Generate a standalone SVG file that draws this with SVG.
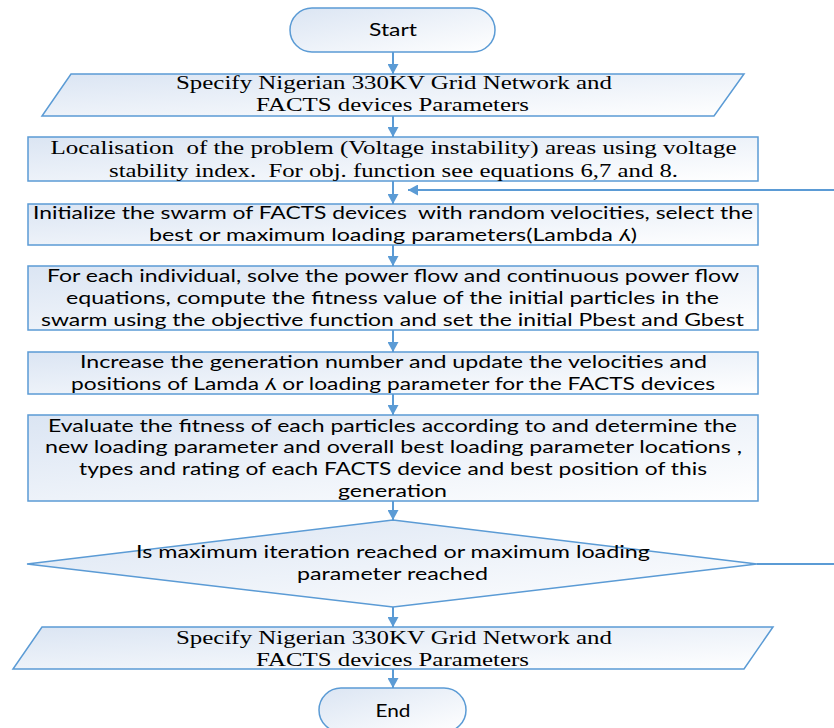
<svg xmlns="http://www.w3.org/2000/svg" width="834" height="728" viewBox="0 0 834 728">
<defs>
  <linearGradient id="g" x1="0" y1="0" x2="1" y2="1">
    <stop offset="0" stop-color="#dbe5f3"/>
    <stop offset="1" stop-color="#ffffff"/>
  </linearGradient>
  <marker id="ah" markerUnits="userSpaceOnUse" markerWidth="10" markerHeight="11" viewBox="0 0 10 11" refX="10" refY="5.5" orient="auto">
    <path d="M0,0 L10,5.5 L0,11 z" fill="#5b9bd5"/>
  </marker>
</defs>
<style>
  .shape{fill:url(#g);stroke:#5b9bd5;stroke-width:1.5}
  .sans{font-family:Lato,"Open Sans","DejaVu Sans",sans-serif;font-size:18px;fill:#000;text-anchor:middle}
  .serif{font-family:"Liberation Serif","Times New Roman",serif;font-size:19px;fill:#000;text-anchor:middle}
  .conn{stroke:#5b9bd5;stroke-width:2;fill:none;marker-end:url(#ah)}
</style>
<rect width="834" height="728" fill="#ffffff"/>

<g id="connectors">
  <line class="conn" x1="393" y1="52" x2="393" y2="74"/>
  <line class="conn" x1="393" y1="116" x2="393" y2="137"/>
  <line class="conn" x1="393" y1="181" x2="393" y2="204"/>
  <line class="conn" x1="393" y1="245" x2="393" y2="266"/>
  <line class="conn" x1="393" y1="330" x2="393" y2="352"/>
  <line class="conn" x1="393" y1="394" x2="393" y2="415"/>
  <line class="conn" x1="393" y1="501" x2="393" y2="520"/>
  <line class="conn" x1="393" y1="607" x2="393" y2="627"/>
  <line class="conn" x1="393" y1="669" x2="393" y2="688"/>
  <path class="conn" d="M757,564 H850 V190 H408"/>
</g>

<g id="start">
  <rect class="shape" x="290" y="8" width="205" height="44" rx="22" ry="22"/>
  <text class="sans" x="393" y="36" textLength="48" lengthAdjust="spacingAndGlyphs">Start</text>
</g>

<g id="input1">
  <polygon class="shape" points="71,74 744,74 714,116 42,116"/>
  <text class="serif" x="394" y="89" textLength="436" lengthAdjust="spacingAndGlyphs">Specify Nigerian 330KV Grid Network and</text>
  <text class="serif" x="392.5" y="111" textLength="273" lengthAdjust="spacingAndGlyphs">FACTS devices Parameters</text>
</g>

<g id="localise">
  <rect class="shape" x="28" y="137" width="730" height="44"/>
  <text class="serif" x="393.5" y="154" textLength="686" lengthAdjust="spacingAndGlyphs" xml:space="preserve">Localisation  of the problem (Voltage instability) areas using voltage</text>
  <text class="serif" x="393.5" y="177" textLength="569" lengthAdjust="spacingAndGlyphs" xml:space="preserve">stability index.  For obj. function see equations 6,7 and 8.</text>
</g>

<g id="initialize">
  <rect class="shape" x="28" y="204" width="730" height="41"/>
  <text class="sans" x="393" y="219" textLength="720" lengthAdjust="spacingAndGlyphs" xml:space="preserve">Initialize the swarm of FACTS devices  with random velocities, select the</text>
  <text class="sans" x="393" y="241" textLength="488" lengthAdjust="spacingAndGlyphs">best or maximum loading parameters(Lambda ʎ)</text>
</g>

<g id="powerflow">
  <rect class="shape" x="28" y="266" width="730" height="64"/>
  <text class="sans" x="393" y="282" textLength="692" lengthAdjust="spacingAndGlyphs">For each individual, solve the power flow and continuous power flow</text>
  <text class="sans" x="392.5" y="304" textLength="653" lengthAdjust="spacingAndGlyphs">equations, compute the fitness value of the initial particles in the</text>
  <text class="sans" x="392.5" y="326" textLength="703" lengthAdjust="spacingAndGlyphs">swarm using the objective function and set the initial Pbest and Gbest</text>
</g>

<g id="update">
  <rect class="shape" x="28" y="352" width="730" height="42"/>
  <text class="sans" x="393.5" y="368" textLength="627" lengthAdjust="spacingAndGlyphs">Increase the generation number and update the velocities and</text>
  <text class="sans" x="393" y="390" textLength="644" lengthAdjust="spacingAndGlyphs">positions of Lamda ʎ or loading parameter for the FACTS devices</text>
</g>

<g id="evaluate">
  <rect class="shape" x="28" y="415" width="730" height="86"/>
  <text class="sans" x="392.5" y="432" textLength="689" lengthAdjust="spacingAndGlyphs">Evaluate the fitness of each particles according to and determine the</text>
  <text class="sans" x="393.5" y="453" textLength="697" lengthAdjust="spacingAndGlyphs">new loading parameter and overall best loading parameter locations ,</text>
  <text class="sans" x="393" y="475" textLength="628" lengthAdjust="spacingAndGlyphs">types and rating of each FACTS device and best position of this</text>
  <text class="sans" x="392.5" y="497" textLength="109" lengthAdjust="spacingAndGlyphs">generation</text>
</g>

<g id="decision">
  <polygon class="shape" points="27,564 393,520 757,564 393,607"/>
  <text class="sans" x="393" y="558" textLength="514" lengthAdjust="spacingAndGlyphs">Is maximum iteration reached or maximum loading</text>
  <text class="sans" x="392.5" y="580" textLength="191" lengthAdjust="spacingAndGlyphs">parameter reached</text>
</g>

<g id="input2">
  <polygon class="shape" points="42,627 773,627 744,669 13,669"/>
  <text class="serif" x="394" y="644" textLength="436" lengthAdjust="spacingAndGlyphs">Specify Nigerian 330KV Grid Network and</text>
  <text class="serif" x="392.5" y="666" textLength="273" lengthAdjust="spacingAndGlyphs">FACTS devices Parameters</text>
</g>

<g id="end">
  <rect class="shape" x="319" y="688" width="147" height="44" rx="22" ry="22"/>
  <text class="sans" x="393" y="717" textLength="35" lengthAdjust="spacingAndGlyphs">End</text>
</g>
</svg>
